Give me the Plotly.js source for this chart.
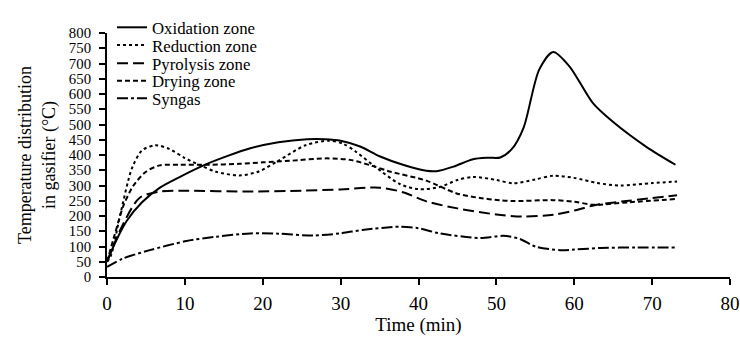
<!DOCTYPE html>
<html>
<head>
<meta charset="utf-8">
<script src="https://cdn.plot.ly/plotly-3.0.1.min.js"></script>
<style>html,body{margin:0;padding:0;background:#fff;}#chart{width:740px;height:339px;}</style>
</head>
<body>
<div id="chart"></div>
<script>
// Data
const seriesNames = ["Oxidation zone", "Reduction zone", "Pyrolysis zone", "Drying zone", "Syngas"];

const oxidationX = [0, 1, 2.5, 4.5, 6.8, 9.5, 12.4, 15.5, 18.4, 22, 25.7, 28, 30, 32.5, 35, 38, 41, 42.3, 44.5, 47, 49, 50.5, 52, 53.5, 55.5, 57.3, 59.4, 62.4, 65, 69.3, 73];
const oxidationY = [50, 110, 183, 245, 293, 330, 366, 397, 422, 442, 452, 452, 447, 428, 396, 368, 348, 347, 362, 386, 391, 392, 420, 490, 680, 738, 690, 570, 508, 426, 368];

const reductionX = [0, 0.5, 1.7, 3.2, 4.5, 6.2, 8, 10, 12, 14, 17, 19.5, 22, 25.5, 28.5, 30.3, 32, 34.2, 37.6, 40, 42.7, 45, 47, 50, 52.2, 55, 57.3, 60, 63, 65.9, 70, 73.2];
const reductionY = [50, 70, 204, 356, 415, 432, 420, 390, 366, 345, 333, 346, 381, 432, 447, 437, 410, 366, 305, 288, 295, 318, 328, 318, 307, 320, 332, 325, 308, 300, 308, 313];

const pyrolysisX = [0, 2, 4.2, 6.8, 10, 18, 25, 30, 35, 38, 41, 45, 50, 53.4, 57.3, 60, 62.9, 67, 73.2];
const pyrolysisY = [50, 170, 260, 280, 283, 280, 283, 287, 293, 278, 248, 225, 205, 198, 204, 218, 237, 250, 268];

const dryingX = [0, 1, 2.1, 3.4, 5, 6.8, 9.4, 13, 17, 20, 23.5, 28.2, 31.2, 34, 36.3, 41, 44.9, 47.9, 50.4, 52.2, 57.3, 60, 62.4, 67, 73.2];
const dryingY = [50, 140, 233, 300, 345, 366, 368, 368, 371, 376, 381, 389, 384, 365, 346, 316, 274, 259, 252, 249, 252, 247, 237, 245, 256];

const syngasX = [0, 2, 5.5, 10.2, 14, 18.4, 22, 26.5, 29.9, 33, 37.6, 40, 42.7, 47.9, 50.9, 53, 55, 58.2, 60, 63.3, 68, 73.2];
const syngasY = [33, 60, 88, 118, 132, 143, 142, 136, 143, 155, 165, 160, 143, 128, 135, 125, 100, 88, 90, 95, 97, 97];

const xTickVals = [0, 10, 20, 30, 40, 50, 60, 70, 80];
const yTickVals = [0, 50, 100, 150, 200, 250, 300, 350, 400, 450, 500, 550, 600, 650, 700, 750, 800];

const dashes = ["solid", "dot", "11px,5px", "5px,3px", "11px,3px,3px,3px"];
const xs = [oxidationX, reductionX, pyrolysisX, dryingX, syngasX];
const ys = [oxidationY, reductionY, pyrolysisY, dryingY, syngasY];
const legendIds = ["legend", "legend2", "legend3", "legend4", "legend5"];
const legendRowY = [1.023, 0.950, 0.876, 0.804, 0.732];

const fam = "Liberation Serif, Times New Roman, serif";
const font = {family: fam, size: 19, color: "#000"};

const traces = seriesNames.map((n, i) => ({
  x: xs[i], y: ys[i], name: n, type: "scatter", mode: "lines", legend: legendIds[i],
  line: {color: "#000", width: 2, dash: dashes[i], shape: "spline", smoothing: 0.8}
}));

const layout = {
  width: 740, height: 339,
  margin: {l: 107, r: 10, t: 14, b: 62},
  paper_bgcolor: "#fff", plot_bgcolor: "#fff",
  font: font,
  showlegend: true,
  xaxis: {
    range: [0, 80], tickvals: xTickVals, ticktext: xTickVals.map(String),
    showline: true, linecolor: "#000", linewidth: 2, ticks: "outside", ticklen: 6, tickwidth: 2, tickcolor: "#000",
    showgrid: false, zeroline: false, fixedrange: true, ticklabelstandoff: 2,
    title: {text: "Time (min)", font: font, standoff: 4},
    tickfont: font
  },
  yaxis: {
    range: [0, 800], tickvals: yTickVals, ticktext: yTickVals.map(String),
    showline: true, linecolor: "#000", linewidth: 2, ticks: "outside", ticklen: 6, tickwidth: 2, tickcolor: "#000",
    showgrid: false, zeroline: false, fixedrange: true, ticklabelstandoff: 5,
    title: {text: "Temperature distribution<br>in gasifier (°C)", font: {family: fam, size: 18, color: "#000"}, standoff: 9},
    tickfont: {family: fam, size: 14.8, color: "#000"}
  }
};
legendIds.forEach((id, i) => {
  layout[id] = {x: 0.008, y: legendRowY[i], xanchor: "left", yanchor: "middle", bgcolor: "rgba(0,0,0,0)",
    borderwidth: 0, font: {family: fam, size: 16.8, color: "#000"}, tracegroupgap: 0, itemwidth: 30};
});

Plotly.newPlot("chart", traces, layout, {displayModeBar: false, staticPlot: true});
</script>
</body>
</html>
